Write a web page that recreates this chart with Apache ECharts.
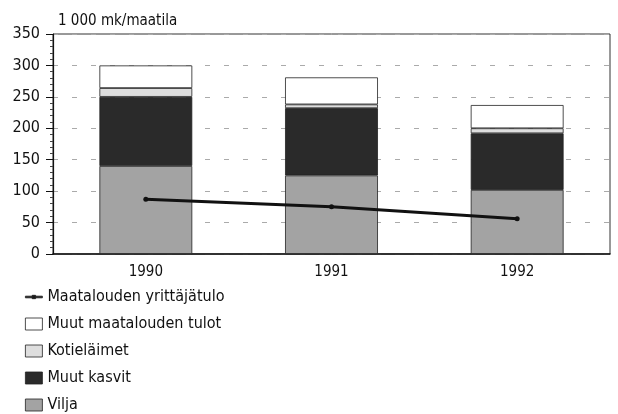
<!DOCTYPE html>
<html>
<head>
<meta charset="utf-8">
<script src="https://cdn.jsdelivr.net/npm/echarts@6/dist/echarts.min.js"></script>
<style>
  html, body { margin: 0; padding: 0; background: #fff; }
  #chart { width: 618px; height: 414px; }
</style>
</head>
<body>
<div id="chart"></div>
<script>
  // data (1 000 mk per farm)
  const years = ['1990', '1991', '1992']
  const vilja = [140, 125, 102]
  const muutKasvit = [110, 107, 90]
  const kotielaimet = [14, 6, 8]
  const muutTulot = [36, 43, 37]
  const yrittajatulo = [87, 75, 56]
  const yTicks = [0, 50, 100, 150, 200, 250, 300, 350]

  const font = '"DejaVu Sans Condensed", "Liberation Sans Narrow", Arial, sans-serif'
  const chart = echarts.init(document.getElementById('chart'))

  function bar(name, data, color) {
    return {
      name: name,
      type: 'bar',
      stack: 'tulot',
      barWidth: '50%',
      data: data,
      itemStyle: { color: color, borderColor: '#222', borderWidth: 0.8 },
      emphasis: { disabled: true }
    }
  }

  const option = {
    animation: false,
    textStyle: { fontFamily: font },
    title: {
      text: '1 000 mk/maatila',
      left: 53,
      top: 9,
      textStyle: { fontFamily: font, fontSize: 15, fontWeight: 'normal', color: '#111' }
    },
    legend: {
      orient: 'vertical',
      left: 20,
      top: 284,
      height: 135,
      itemGap: 11,
      itemWidth: 17,
      itemHeight: 12,
      icon: 'rect',
      itemStyle: { borderWidth: 0.8, borderColor: '#222' },
      textStyle: { fontFamily: font, fontSize: 16, color: '#111' },
      data: [
        { name: 'Maatalouden yrittäjätulo', icon: 'path://M0,5 L20,5 L20,7 L0,7 Z M8,4 L12,4 L12,8 L8,8 Z' },
        { name: 'Muut maatalouden tulot' },
        { name: 'Kotieläimet' },
        { name: 'Muut kasvit' },
        { name: 'Vilja' }
      ]
    },
    grid: {
      left: 53,
      right: 8,
      top: 34,
      bottom: 160,
      show: true,
      borderColor: '#333',
      borderWidth: 1
    },
    xAxis: {
      type: 'category',
      data: years,
      axisLine: { lineStyle: { color: '#111', width: 1.5 } },
      axisTick: { show: false },
      axisLabel: { fontFamily: font, fontSize: 15, color: '#111', margin: 11 }
    },
    yAxis: {
      type: 'value',
      min: yTicks[0],
      max: yTicks[yTicks.length - 1],
      interval: 50,
      axisLine: { show: true, lineStyle: { color: '#111', width: 1.2 } },
      axisTick: { show: true, length: 7, lineStyle: { color: '#111' } },
      minorTick: { show: true, splitNumber: 5, length: 3, lineStyle: { color: '#444' } },
      axisLabel: { fontFamily: font, fontSize: 16, color: '#111', margin: 13 },
      splitLine: { show: true, lineStyle: { color: '#aaa', type: [5, 14] } }
    },
    series: [
      bar('Vilja', vilja, '#a3a3a3'),
      bar('Muut kasvit', muutKasvit, '#2a2a2a'),
      bar('Kotieläimet', kotielaimet, '#dedede'),
      bar('Muut maatalouden tulot', muutTulot, '#ffffff'),
      {
        name: 'Maatalouden yrittäjätulo',
        type: 'line',
        data: yrittajatulo,
        symbol: 'circle',
        symbolSize: 5,
        lineStyle: { color: '#111', width: 3 },
        itemStyle: { color: '#111' },
        z: 5
      }
    ]
  }
  chart.setOption(option)
</script>
</body>
</html>
